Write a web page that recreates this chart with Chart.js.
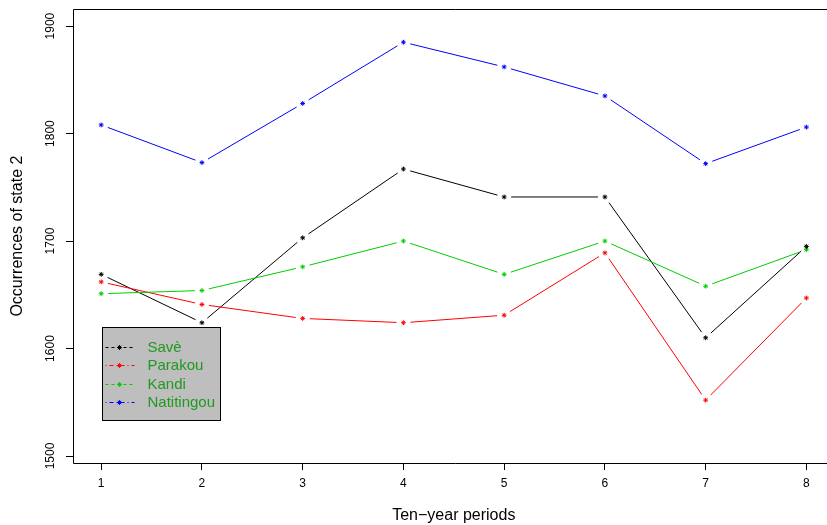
<!DOCTYPE html>
<html>
<head>
<meta charset="utf-8">
<script src="https://cdn.jsdelivr.net/npm/chart.js@4/dist/chart.umd.min.js"></script>
<style>
html, body { margin:0; padding:0; overflow:hidden; background:#fff; }
canvas { display:block; }
</style>
</head>
<body>
<canvas id="c" width="838" height="525" style="width:838px;height:525px"></canvas>
<script>
const periods = [1, 2, 3, 4, 5, 6, 7, 8];
const seriesNames = ['Savè', 'Parakou', 'Kandi', 'Natitingou'];
const seriesColors = ['#000000', '#ff0000', '#00cd00', '#0000ff'];
const save       = [1669, 1624, 1703, 1767, 1741, 1741, 1610, 1695];
const parakou    = [1662, 1641, 1628, 1624, 1631, 1689, 1552, 1647];
const kandi      = [1651, 1654, 1676, 1700, 1669, 1700, 1658, 1692];
const natitingou = [1808, 1773, 1828, 1885, 1862, 1835, 1772, 1806];
const yTicks = [1500, 1600, 1700, 1800, 1900];
const xTicks = periods;
const legendDash = [[3,3],[1,3,4,3],[3,3],[1,3,4,3]];

const FONT = "'Liberation Sans', Arial, Helvetica, sans-serif";
const allSeries = [save, parakou, kandi, natitingou];

const datasets = allSeries.map((vals, i) => ({
  label: seriesNames[i],
  data: vals.map((v, j) => ({ x: periods[j], y: v })),
  showLine: false,
  borderColor: seriesColors[i],
  backgroundColor: seriesColors[i],
  pointStyle: 'star',
  pointRadius: 2.4,
  pointBorderWidth: 1,
  pointHoverRadius: 2.4
}));

const gapLines = {
  id: 'gapLines',
  afterDatasetsDraw(chart) {
    const ctx = chart.ctx;
    const gap = 7;
    chart.data.datasets.forEach((ds, i) => {
      const meta = chart.getDatasetMeta(i);
      ctx.save();
      ctx.strokeStyle = ds.borderColor;
      ctx.lineWidth = 1;
      ctx.beginPath();
      for (let k = 0; k < meta.data.length - 1; k++) {
        const a = meta.data[k], b = meta.data[k + 1];
        const dx = b.x - a.x, dy = b.y - a.y;
        const len = Math.hypot(dx, dy);
        if (len <= 2 * gap) continue;
        const ux = dx / len, uy = dy / len;
        ctx.moveTo(a.x + ux * gap, a.y + uy * gap);
        ctx.lineTo(b.x - ux * gap, b.y - uy * gap);
      }
      ctx.stroke();
      ctx.restore();
    });
  }
};

const boxAndLegend = {
  id: 'boxAndLegend',
  afterDraw(chart) {
    const ctx = chart.ctx;
    const a = chart.chartArea;
    ctx.save();
    ctx.strokeStyle = '#000';
    ctx.lineWidth = 1;
    const L = Math.round(a.left) + 0.5, T = Math.round(a.top) + 0.5, B = Math.round(a.bottom) + 0.5;
    ctx.beginPath();
    ctx.moveTo(chart.width, T); ctx.lineTo(L, T); ctx.lineTo(L, B); ctx.lineTo(chart.width, B);
    ctx.stroke();
    const xs = chart.scales.x, ys = chart.scales.y;
    const lx = Math.round(xs.getPixelForValue(1)) + 1.5;
    const ly = Math.round(ys.getPixelForValue(1620)) + 0.5;
    const lw = 118, lh = 93;
    ctx.fillStyle = '#bebebe';
    ctx.fillRect(lx, ly, lw, lh);
    ctx.strokeRect(lx, ly, lw, lh);
    ctx.font = '15px ' + FONT;
    ctx.textBaseline = 'middle';
    ctx.textAlign = 'left';
    seriesNames.forEach((name, i) => {
      const ry = ly + 19 + i * 18.5;
      ctx.strokeStyle = seriesColors[i];
      ctx.setLineDash(legendDash[i]);
      ctx.beginPath();
      ctx.moveTo(lx + 3, Math.round(ry) + 0.5);
      ctx.lineTo(lx + 32, Math.round(ry) + 0.5);
      ctx.stroke();
      ctx.setLineDash([]);
      Chart.helpers.drawPoint(ctx, { pointStyle: 'star', radius: 2.4, borderWidth: 1 }, lx + 17, Math.round(ry) + 0.5);
      ctx.fillStyle = '#1f9a1f';
      ctx.fillText(name, lx + 45, ry + 1);
    });
    ctx.restore();
  }
};

new Chart(document.getElementById('c'), {
  type: 'scatter',
  data: { datasets },
  options: {
    responsive: false,
    animation: false,
    events: [],
    layout: { padding: { top: 7, left: 0, right: 0, bottom: 0 } },
    plugins: { legend: { display: false }, tooltip: { enabled: false } },
    scales: {
      x: {
        type: 'linear',
        min: 0.72, max: 8.28,
        afterFit(s) { s.height = 62; },
        afterBuildTicks(s) { s.ticks = xTicks.map(v => ({ value: v })); },
        border: { display: false },
        grid: { drawOnChartArea: false, drawTicks: true, tickLength: 7, color: '#000', tickColor: '#000', lineWidth: 1 },
        ticks: { color: '#000', font: { family: FONT, size: 12 }, padding: 6, maxRotation: 0, minRotation: 0, includeBounds: false, callback: v => String(v) },
        title: { display: true, text: 'Ten\u2212year periods', color: '#000', font: { family: FONT, size: 16 }, padding: { top: 0, bottom: 0 } }
      },
      y: {
        type: 'linear',
        min: 1493.5, max: 1915.7,
        afterFit(s) { s.width = 73; },
        afterBuildTicks(s) { s.ticks = yTicks.map(v => ({ value: v })); },
        border: { display: false },
        grid: { drawOnChartArea: false, drawTicks: true, tickLength: 7, color: '#000', tickColor: '#000', lineWidth: 1 },
        ticks: { color: '#000', font: { family: FONT, size: 12 }, padding: 2, minRotation: 90, maxRotation: 90, crossAlign: 'center', includeBounds: false, callback: v => String(v) },
        title: { display: true, text: 'Occurrences of state 2', color: '#000', font: { family: FONT, size: 16 }, padding: { top: 8, bottom: 0 } }
      }
    }
  },
  plugins: [gapLines, boxAndLegend]
});
</script>
</body>
</html>
